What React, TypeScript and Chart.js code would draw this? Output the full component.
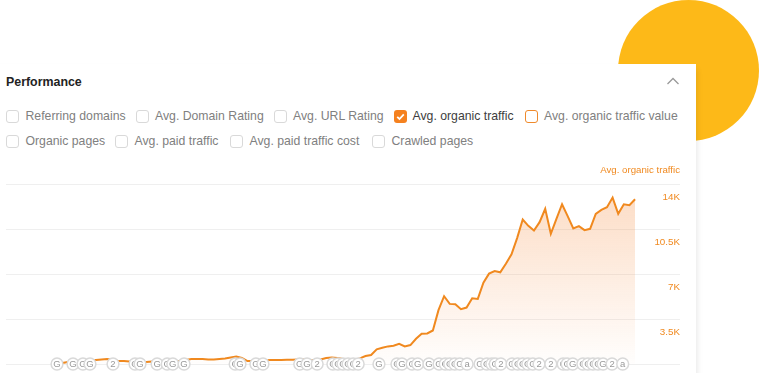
import React, { useEffect, useRef } from "react";
import { Chart, registerables } from "chart.js";

Chart.register(...registerables);

const weeks: number[] = Array.from({ length: 121 }, (_, i) => i);

const traffic: (number | null)[] = [
  null, null, null, null, null, null, null, null, null,
  40, 70, 150, 150, 190, 230, 270, 310, 350, 390, 310,
  230, 230, 190, 150, 150, 150, 190, 150, 150, 190,
  230, 230, 310, 390, 390, 390, 350, 350, 390, 430,
  505, 585, 467, 230, 230, 230, 270, 310, 310, 310,
  330, 340, 350, 350, 310, 310, 350, 467, 505, 467,
  390, 310, 300,
  441, 622, 700, 1141, 1270, 1374, 1426, 1581, 1374, 1478,
  1970, 2359, 2385, 2619, 4200, 5289, 4692, 4667, 4278, 4407,
  5133, 5081, 6352, 7052, 7259, 7156, 7830, 8556, 9826, 11278,
  10785, 10422, 11070, 12108, 10163, 11330, 12470, 11537, 10578, 10759,
  10448, 10552, 11718, 12030, 12237, 12989, 11718, 12470, 12393, 12859,
  null, null, null, null, null, null, null, null,
];

const yTicks = [0, 3500, 7000, 10500, 14000];
const yTickLabels = ["", "3.5K", "7K", "10.5K", "14K"];
const axisName = "Avg. organic traffic";

const badgePositions = [
  9.08, 11.93, 13.7, 14.95, 19.05, 22.97, 23.86, 26.9, 28.7, 29.7, 31.7, 40.8, 41.66, 44.5, 45.75,
  52.3, 53.6, 55.4, 58.2, 59.1, 60, 60.9, 61.8, 62.7, 66.4, 69.6, 70.5, 72.3, 73.3, 75.3, 77.1,
  78.2, 79, 79.9, 80.8, 82.1, 84.4, 85.6, 86.5, 87.1, 88.1, 90.1, 91.1, 92, 92.9, 93.8, 94.9, 97,
  99.2, 99.9, 100.9, 102.7, 103.6, 104.5, 105.4, 106.3, 107.9, 109.8,
];
const badgeLetters = [
  "G", "G", "G", "G", "2", "G", "G", "G", "G", "G", "G", "G", "G", "G", "G",
  "G", "G", "2", "G", "G", "G", "G", "G", "2", "G", "G", "G", "G", "G", "G", "G",
  "G", "G", "G", "G", "a", "G", "G", "G", "G", "2", "G", "G", "G", "G", "G", "2", "2",
  "G", "G", "G", "G", "G", "G", "G", "G", "2", "a",
];

const row1 = [
  { label: "Referring domains", box: 6, text: 25.5 },
  { label: "Avg. Domain Rating", box: 136, text: 155 },
  { label: "Avg. URL Rating", box: 274, text: 293 },
  { label: "Avg. organic traffic", box: 394, text: 412.5, state: "checked" },
  { label: "Avg. organic traffic value", box: 525, text: 544, state: "outlined" },
];
const row2 = [
  { label: "Organic pages", box: 6, text: 25.5 },
  { label: "Avg. paid traffic", box: 115, text: 134.5 },
  { label: "Avg. paid traffic cost", box: 230, text: 249.5 },
  { label: "Crawled pages", box: 372, text: 391.5 },
];

const ORANGE = "#f0891f";
const FONT = '"Liberation Sans", Arial, sans-serif';

const badgePlugin = {
  id: "badges",
  afterDatasetsDraw(chart: any) {
    const { ctx, scales } = chart;
    const yPix = scales.y.getPixelForValue(0);
    ctx.save();
    ctx.font = `9.5px ${FONT}`;
    ctx.textAlign = "center";
    ctx.textBaseline = "middle";
    badgePositions.forEach((p, i) => {
      const x = scales.x.getPixelForValue(p);
      ctx.beginPath();
      ctx.arc(x, yPix, 5.9, 0, Math.PI * 2);
      ctx.fillStyle = "#ffffff";
      ctx.fill();
      ctx.lineWidth = 1.5;
      ctx.strokeStyle = "#d9d9d9";
      ctx.stroke();
      ctx.fillStyle = "#9a9a9a";
      ctx.fillText(badgeLetters[i], x, yPix + 0.5);
    });
    ctx.restore();
  },
};

function Box({ left, top, state }: { left: number; top: number; state?: string }) {
  const base: React.CSSProperties = {
    position: "absolute",
    left,
    top,
    width: 13,
    height: 13,
    boxSizing: "border-box",
    borderRadius: 3,
    border: "1.3px solid #d9d9d9",
    background: "#fff",
  };
  if (state === "checked") {
    return (
      <div style={{ ...base, background: "#f5811f", border: "none" }}>
        <svg width="13" height="13" viewBox="0 0 13 13" style={{ display: "block" }}>
          <path d="M3.2 6.8 L5.5 9 L9.8 4.4" fill="none" stroke="#fff" strokeWidth="1.8" />
        </svg>
      </div>
    );
  }
  if (state === "outlined") {
    return <div style={{ ...base, border: "1.6px solid #ef8a2c" }} />;
  }
  return <div style={base} />;
}

function Row({ items, center }: { items: any[]; center: number }) {
  return (
    <>
      {items.map((it) => (
        <React.Fragment key={it.label}>
          <Box left={it.box} top={center - 6.5} state={it.state} />
          <div
            style={{
              position: "absolute",
              left: it.text,
              top: center - 9,
              lineHeight: "18px",
              fontSize: 12.25,
              whiteSpace: "nowrap",
              color: it.state === "checked" ? "#3d3d3d" : "#808080",
            }}
          >
            {it.label}
          </div>
        </React.Fragment>
      ))}
    </>
  );
}

export default function App() {
  const ref = useRef<HTMLCanvasElement>(null);

  useEffect(() => {
    const chart = new Chart(ref.current!, {
      type: "line",
      data: {
        labels: weeks,
        datasets: [
          {
            label: axisName,
            data: traffic,
            borderColor: ORANGE,
            borderWidth: 2,
            pointRadius: 0,
            tension: 0,
            fill: "origin",
            backgroundColor: (c: any) => {
              const area = c.chart.chartArea;
              if (!area) return "rgba(0,0,0,0)";
              const g = c.chart.ctx.createLinearGradient(0, area.top, 0, area.bottom);
              g.addColorStop(0, "rgba(246,150,80,0.34)");
              g.addColorStop(1, "rgba(246,150,80,0.01)");
              return g;
            },
          },
        ],
      },
      options: {
        responsive: false,
        animation: false,
        layout: { padding: { left: 6, right: 15, top: 0, bottom: 9 } },
        plugins: {
          legend: { display: false },
          tooltip: { enabled: false },
          title: {
            display: true,
            text: axisName,
            align: "end",
            color: ORANGE,
            font: { family: FONT, size: 9.7, weight: "normal" },
            padding: { top: 10, bottom: 8 },
          },
        },
        scales: {
          x: { display: false },
          y: {
            position: "right",
            min: 0,
            max: 14000,
            afterBuildTicks: (axis: any) => {
              axis.ticks = yTicks.map((value) => ({ value }));
            },
            border: { display: false },
            grid: { color: "#efefef", lineWidth: 1, drawTicks: false },
            ticks: {
              mirror: true,
              padding: 0,
              labelOffset: 13,
              color: ORANGE,
              font: { family: FONT, size: 9.8 },
              callback: (v: any) => yTickLabels[yTicks.indexOf(Number(v))],
            },
          },
        },
      },
      plugins: [badgePlugin],
    } as any);
    return () => chart.destroy();
  }, []);

  return (
    <div
      style={{
        position: "fixed",
        inset: 0,
        overflow: "hidden",
        background: "#fff",
        fontFamily: FONT,
      }}
    >
      <div
        style={{
          position: "absolute",
          left: 617.5,
          top: 0,
          width: 141,
          height: 141,
          borderRadius: "50%",
          background: "#fdb918",
        }}
      />
      <div
        style={{
          position: "absolute",
          left: -30,
          top: 64,
          width: 725.5,
          height: 400,
          background: "#fff",
          boxShadow: "3px 3px 6px -2px rgba(0,0,0,0.10)",
        }}
      />
      <div
        style={{
          position: "absolute",
          left: 6,
          top: 73,
          lineHeight: "18px",
          fontSize: 12.4,
          fontWeight: 700,
          color: "#222",
        }}
      >
        Performance
      </div>
      <svg
        width="14"
        height="8"
        viewBox="0 0 14 8"
        style={{ position: "absolute", left: 665.5, top: 77 }}
      >
        <path d="M1.5 7 L7 1.5 L12.5 7" fill="none" stroke="#9a9a9a" strokeWidth="1.3" />
      </svg>
      <Row items={row1} center={116} />
      <Row items={row2} center={141} />
      <canvas
        ref={ref}
        width={695}
        height={218}
        style={{ position: "absolute", left: 0, top: 155, display: "block" }}
      />
    </div>
  );
}
